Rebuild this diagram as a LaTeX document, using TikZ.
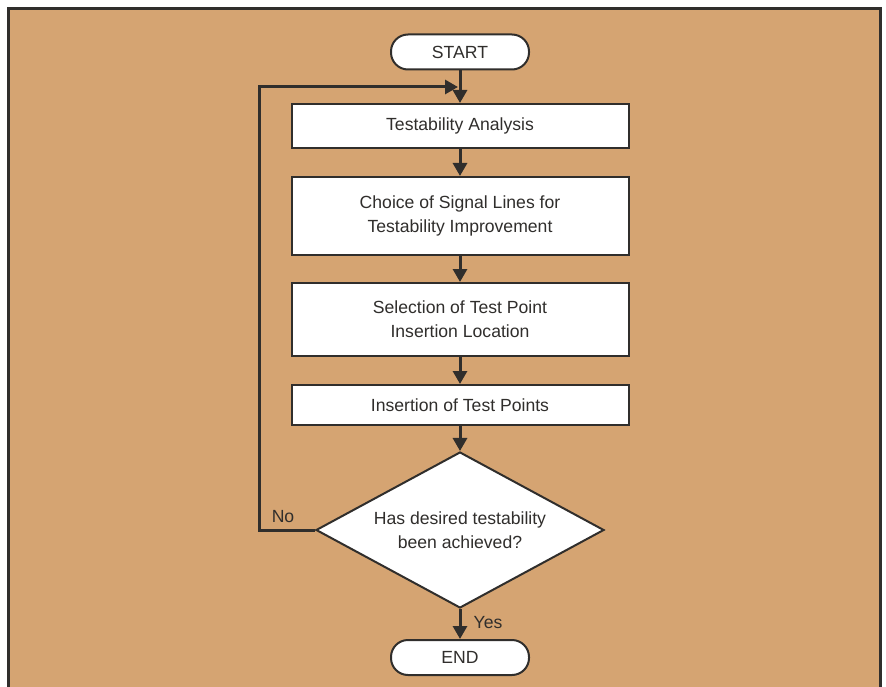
\documentclass[tikz,border=0pt]{standalone}
\usepackage{fontspec}
\setmainfont{Liberation Sans}
\usetikzlibrary{shapes.geometric,arrows.meta}
\definecolor{paper}{RGB}{213,164,114}
\definecolor{ink}{RGB}{48,46,44}
\tikzset{
  stepbox/.style={draw=ink,line width=2pt,fill=white,text=ink,align=center,
    minimum width=337pt,inner sep=0pt,font=\fontsize{17.6}{24}\selectfont},
  term/.style={draw=ink,line width=2pt,fill=white,text=ink,rounded corners=17pt,
    minimum width=138pt,minimum height=35pt,inner sep=0pt,font=\fontsize{17.6}{20}\selectfont},
  decide/.style={draw=ink,line width=2pt,fill=white,text=ink,diamond,aspect=1.85,align=center,
    minimum width=288pt,minimum height=156pt,inner sep=0pt,font=\fontsize{17.6}{24}\selectfont},
  flow/.style={draw=ink,line width=3pt,-{Triangle[length=13pt,width=14pt]}},
  tag/.style={text=ink,font=\fontsize{17.6}{20}\selectfont}
}
\begin{document}
\begin{tikzpicture}[x=1pt,y=-1pt]
\useasboundingbox (0,0) rectangle (886,687);
\fill[white] (0,0) rectangle (886,687);
\fill[paper] (8,9) rectangle (880,687);
\draw[ink,line width=3pt] (8,687) -- (8,9) -- (880,9) -- (880,687);

\node[term] (start) at (460,52) {START};
\node[stepbox,minimum height=44pt] (analysis) at (460,126) {Testability Analysis};
\node[stepbox,minimum height=78pt] (choice) at (460,216) {Choice of Signal Lines for\\Testability Improvement};
\node[stepbox,minimum height=73pt] (select) at (460,319.5) {Selection of Test Point\\Insertion Location};
\node[stepbox,minimum height=40pt] (insert) at (460,405) {Insertion of Test Points};
\node[decide] (check) at (460,530) {Has desired testability\\been achieved?};
\node[term] (end) at (460,657.5) {END};

\coordinate (corner) at (259,87);
\coordinate (merge) at (458,87);

\draw[flow] (start) -- (analysis);
\draw[flow] (analysis) -- (choice);
\draw[flow] (choice) -- (select);
\draw[flow] (select) -- (insert);
\draw[flow] (insert) -- (check);
\draw[flow] (check) -- (end);
\draw[flow] (check.west) -| (corner) -- (merge);

\node[tag] (yes) at (488,623) {Yes};
\node[tag] (no) at (283,517) {No};
\end{tikzpicture}
\end{document}
